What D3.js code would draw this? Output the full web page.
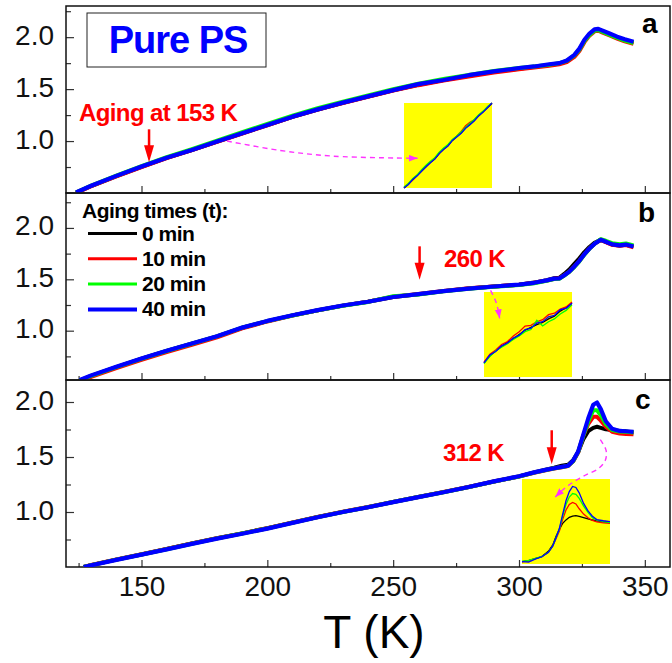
<!DOCTYPE html>
<html>
<head>
<meta charset="utf-8">
<script src="https://cdn.jsdelivr.net/npm/d3@7"></script>
<style>
  body { margin: 0; background: #fff; }
  text { font-family: "Liberation Sans", Arial, sans-serif; }
</style>
</head>
<body>
<div id="chart"></div>
<script>
// temperatures (K) and curves for each panel
var tA = [124,130,140,150,160,170,180,190,200,210,220,230,240,250,260,270,280,290,300,306,312,316,319,322,324,326,328,330,331.5,333,336,339,342,345.5]
var aBlack = [0.503,0.567,0.662,0.752,0.838,0.914,0.994,1.074,1.154,1.234,1.304,1.368,1.428,1.488,1.542,1.587,1.628,1.667,1.697,1.714,1.731,1.746,1.768,1.822,1.88,1.965,2.026,2.066,2.072,2.057,2.027,1.997,1.972,1.947]
var aRed   = [0.5,0.565,0.66,0.75,0.835,0.912,0.993,1.072,1.152,1.232,1.302,1.366,1.426,1.485,1.538,1.582,1.622,1.66,1.69,1.707,1.724,1.738,1.76,1.81,1.868,1.952,2.015,2.056,2.062,2.046,2.016,1.986,1.96,1.935]
var aGreen = [0.505,0.572,0.668,0.758,0.845,0.922,1.003,1.085,1.165,1.245,1.316,1.38,1.44,1.5,1.553,1.597,1.637,1.675,1.703,1.718,1.735,1.75,1.772,1.825,1.88,1.963,2.022,2.062,2.068,2.053,2.023,1.993,1.968,1.944]
var aBlue  = [0.505,0.57,0.665,0.755,0.84,0.915,0.995,1.075,1.155,1.235,1.305,1.37,1.43,1.49,1.548,1.588,1.634,1.67,1.703,1.718,1.739,1.75,1.775,1.83,1.89,1.975,2.035,2.075,2.08,2.065,2.035,2.005,1.98,1.955]

var tB = [125.5,130,140,150,160,170,180,190,200,210,220,230,240,250,260,270,280,290,300,306,311,314,316,318,320,322,324,326,328,330,332.5,334.5,337,340,342.5,345.5]
var bBlack = [0.515,0.56,0.645,0.727,0.803,0.873,0.944,1.028,1.093,1.149,1.199,1.244,1.281,1.327,1.355,1.385,1.41,1.43,1.448,1.468,1.492,1.51,1.515,1.552,1.595,1.65,1.705,1.765,1.815,1.855,1.884,1.864,1.839,1.829,1.836,1.818]
var bRed   = [0.505,0.55,0.635,0.715,0.792,0.863,0.935,1.022,1.09,1.147,1.198,1.244,1.283,1.33,1.358,1.387,1.412,1.431,1.448,1.466,1.488,1.505,1.51,1.54,1.575,1.625,1.68,1.745,1.8,1.845,1.885,1.862,1.836,1.826,1.834,1.812]
var bGreen = [0.515,0.56,0.645,0.726,0.802,0.873,0.945,1.03,1.093,1.148,1.198,1.243,1.28,1.335,1.353,1.383,1.408,1.427,1.444,1.462,1.486,1.503,1.505,1.537,1.572,1.62,1.675,1.74,1.797,1.845,1.89,1.875,1.852,1.842,1.848,1.83]
var bBlue  = [0.52,0.565,0.65,0.73,0.805,0.875,0.945,1.03,1.095,1.15,1.2,1.245,1.282,1.328,1.356,1.385,1.41,1.43,1.448,1.466,1.49,1.507,1.508,1.54,1.575,1.625,1.68,1.745,1.8,1.845,1.885,1.866,1.84,1.83,1.838,1.82]

var tC = [127,130,140,150,160,170,180,190,200,210,220,230,240,250,260,270,280,290,300,306,311,314,317,319.5,321.5,323.5,325.5,327.5,329.5,331,332.5,334.5,337,340,342.5,345.5]
var cBlack = [0.5,0.517,0.567,0.614,0.663,0.713,0.761,0.806,0.853,0.903,0.954,1.001,1.044,1.091,1.136,1.181,1.227,1.277,1.324,1.36,1.387,1.402,1.42,1.43,1.47,1.545,1.66,1.735,1.765,1.775,1.765,1.752,1.746,1.737,1.733,1.722]
var cRed   = [0.5,0.518,0.568,0.616,0.665,0.715,0.762,0.806,0.853,0.904,0.955,1.002,1.045,1.092,1.137,1.182,1.228,1.277,1.323,1.357,1.382,1.396,1.407,1.418,1.46,1.54,1.69,1.8,1.865,1.865,1.83,1.775,1.73,1.713,1.71,1.707]
var cGreen = [0.5,0.517,0.567,0.614,0.662,0.712,0.76,0.804,0.851,0.902,0.953,1.0,1.044,1.091,1.136,1.18,1.226,1.276,1.323,1.358,1.383,1.397,1.408,1.42,1.462,1.545,1.69,1.82,1.925,1.925,1.88,1.8,1.745,1.731,1.73,1.722]
var cBlue  = [0.5,0.515,0.565,0.612,0.66,0.71,0.758,0.802,0.849,0.901,0.952,1.0,1.043,1.09,1.135,1.18,1.227,1.278,1.325,1.36,1.385,1.398,1.41,1.42,1.465,1.55,1.7,1.85,1.975,1.995,1.935,1.825,1.757,1.737,1.734,1.728]

// agrandissements (encarts jaunes)
var tInsA = [145,146,147,148,149,150,151,152,153,154,155,156,157,158,159,160,161,162,163,164,165]
var insABlack = [0.7,0.708,0.716,0.725,0.734,0.742,0.751,0.758,0.768,0.777,0.784,0.794,0.802,0.809,0.819,0.826,0.834,0.843,0.851,0.859,0.867]
var insARed   = [0.701,0.708,0.716,0.725,0.734,0.743,0.751,0.759,0.769,0.777,0.785,0.795,0.803,0.812,0.823,0.83,0.835,0.844,0.851,0.86,0.868]
var insAGreen = [0.702,0.709,0.719,0.726,0.736,0.745,0.753,0.76,0.771,0.779,0.786,0.796,0.803,0.811,0.82,0.828,0.836,0.845,0.852,0.861,0.868]
var insABlue  = [0.7,0.707,0.717,0.724,0.733,0.742,0.75,0.757,0.768,0.776,0.783,0.794,0.801,0.808,0.818,0.825,0.833,0.843,0.85,0.859,0.868]

var tInsB = [245,247,249,251,253,255,257,259,261,263,265,267,269,271,273,275]
var insBBlack = [1.3,1.31,1.317,1.323,1.329,1.334,1.34,1.346,1.35,1.354,1.357,1.362,1.366,1.373,1.378,1.384]
var insBRed   = [1.301,1.312,1.318,1.326,1.33,1.338,1.344,1.352,1.353,1.358,1.361,1.368,1.37,1.376,1.379,1.386]
var insBGreen = [1.299,1.309,1.317,1.322,1.327,1.333,1.338,1.344,1.347,1.36,1.352,1.358,1.362,1.369,1.374,1.382]
var insBBlue  = [1.3,1.311,1.316,1.324,1.328,1.335,1.339,1.347,1.349,1.356,1.358,1.365,1.367,1.375,1.377,1.384]

var tInsC = [305,308,311,314,317,319,320.5,322,323.5,325,326.5,328,329.5,331,333,335,337,339,342,345]
var insCBlack = [1.323,1.332,1.351,1.37,1.42,1.48,1.56,1.625,1.683,1.715,1.739,1.75,1.755,1.748,1.737,1.724,1.714,1.706,1.697,1.689]
var insCRed   = [1.32,1.33,1.35,1.368,1.41,1.47,1.54,1.61,1.72,1.808,1.86,1.88,1.865,1.82,1.77,1.735,1.71,1.697,1.688,1.683]
var insCGreen = [1.325,1.333,1.352,1.37,1.41,1.47,1.55,1.63,1.75,1.86,1.93,1.963,1.955,1.918,1.845,1.785,1.735,1.712,1.698,1.689]
var insCBlue  = [1.322,1.318,1.345,1.368,1.41,1.47,1.55,1.636,1.77,1.895,1.981,2.03,2.02,1.97,1.87,1.8,1.75,1.718,1.707,1.698]

var yDomA = [0.5, 2.3], yDomB = [0.52, 2.34], yDomC = [0.5, 2.2]
var insDomA = [[145, 165], [0.70, 0.868]]
var insDomB = [[245, 275], [1.28, 1.40]]
var insDomC = [[305, 345], [1.30, 2.10]]

var xDomain = [120, 360]
var majorT = [150, 200, 250, 300, 350]
var minorT = [125, 175, 225, 275, 325]
var majorY = [1.0, 1.5, 2.0]
var minorY = [0.75, 1.25, 1.75, 2.25]

var times = ["0 min", "10 min", "20 min", "40 min"]
var colors = ["#000000", "#ff0000", "#00ff00", "#0000ff"]

// temperatures de vieillissement et flèches
var agingT = [153, 260.5, 313]
var agingLabels = ["Aging at 153 K", "260 K", "312 K"]
var agingArrowY = [[1.113, 0.795], [1.821, 1.496], [1.743, 1.434]]
var pinkA = [[184, 1.0], [205, 0.91], [226, 0.855], [259.7, 0.834]]
var pinkB = [[288.7, 1.392], [291, 1.27], [292.3, 1.12]]
var pinkC = [[332.3, 1.658], [334.6, 1.561], [334.3, 1.47], [331.6, 1.395], [326.3, 1.334], [319.7, 1.243], [314.4, 1.136]]

var width = 672
var height = 663

var panels = [
  { t: tA, ys: [aBlack, aRed, aGreen, aBlue], yDom: yDomA, top: 6, letter: "a",
    ins: { t: tInsA, ys: [insABlack, insARed, insAGreen, insABlue], dom: insDomA, x: 404, y: 103 },
    pink: pinkA, label: { x: 79, y: 121 } },
  { t: tB, ys: [bBlack, bRed, bGreen, bBlue], yDom: yDomB, top: 193, letter: "b",
    ins: { t: tInsB, ys: [insBBlack, insBRed, insBGreen, insBBlue], dom: insDomB, x: 484, y: 292 },
    pink: pinkB, label: { x: 444, y: 267 } },
  { t: tC, ys: [cBlack, cRed, cGreen, cBlue], yDom: yDomC, top: 380, letter: "c",
    ins: { t: tInsC, ys: [insCBlack, insCRed, insCGreen, insCBlue], dom: insDomC, x: 522, y: 479 },
    pink: pinkC, label: { x: 443, y: 461 } }
]
var panelH = 187
var left = 66, right = 670
var insW = 88, insH = 85

var svg = d3.select("#chart")
  .append("svg")
    .attr("width", width)
    .attr("height", height)

var defs = svg.append("defs")
defs.append("marker")
    .attr("id", "pinkhead")
    .attr("markerUnits", "userSpaceOnUse")
    .attr("markerWidth", 10)
    .attr("markerHeight", 8)
    .attr("refX", 9)
    .attr("refY", 3.5)
    .attr("orient", "auto")
  .append("path")
    .attr("d", "M0,0 L9,3.5 L0,7 z")
    .style("fill", "#ff33ff")

var x = d3.scaleLinear().domain(xDomain).range([left, right])

panels.forEach(function(p, pi) {
  var y = d3.scaleLinear().domain(p.yDom).range([p.top + panelH, p.top])
  var g = svg.append("g")

  defs.append("clipPath").attr("id", "clip" + pi)
    .append("rect")
      .attr("x", left).attr("y", p.top)
      .attr("width", right - left).attr("height", panelH)

  // axes
  var axB = g.append("g").attr("transform", "translate(0," + (p.top + panelH) + ")")
  axB.call(d3.axisBottom(x).tickValues(minorT).tickSize(-4).tickFormat(""))
  var axB2 = g.append("g").attr("transform", "translate(0," + (p.top + panelH) + ")")
  axB2.call(d3.axisBottom(x).tickValues(majorT).tickSize(-7).tickPadding(9)
    .tickFormat(pi == 2 ? d3.format("d") : ""))
  var axL = g.append("g").attr("transform", "translate(" + left + ",0)")
  axL.call(d3.axisLeft(y).tickValues(minorY.filter(function(v){ return v < p.yDom[1] }))
    .tickSize(-5).tickFormat(""))
  var axL2 = g.append("g").attr("transform", "translate(" + left + ",0)")
  axL2.call(d3.axisLeft(y).tickValues(majorY).tickSize(-8).tickPadding(12).tickFormat(d3.format(".1f")))
  g.selectAll(".domain").remove()
  g.selectAll(".tick line").attr("stroke", "#333").attr("stroke-width", 1.2)
  g.selectAll(".tick text")
    .style("font-size", "28px")
    .style("fill", "#111")
  axL2.selectAll(".tick text").attr("dy", "0.25em")

  g.append("rect")
    .attr("x", left).attr("y", p.top)
    .attr("width", right - left).attr("height", panelH)
    .style("fill", "none").style("stroke", "#111").style("stroke-width", 1.5)

  // courbes
  var line = d3.line()
    .x(function(d){ return x(d[0]) })
    .y(function(d){ return y(d[1]) })
  var curves = g.append("g").attr("clip-path", "url(#clip" + pi + ")")
  p.ys.forEach(function(vals, si) {
    curves.append("path")
      .datum(p.t.map(function(t, i){ return [t, vals[i]] }))
      .attr("d", line)
      .style("fill", "none")
      .style("stroke", colors[si])
      .style("stroke-width", si == 3 ? 4.2 : 4)
      .style("stroke-linejoin", "round")
  })

  // encart jaune
  var ix = d3.scaleLinear().domain(p.ins.dom[0]).range([p.ins.x, p.ins.x + insW])
  var iy = d3.scaleLinear().domain(p.ins.dom[1]).range([p.ins.y + insH, p.ins.y])
  g.append("rect")
    .attr("x", p.ins.x).attr("y", p.ins.y)
    .attr("width", insW).attr("height", insH)
    .style("fill", "#ffff00")
  var iline = d3.line()
    .x(function(d){ return ix(d[0]) })
    .y(function(d){ return iy(d[1]) })
  p.ins.ys.forEach(function(vals, si) {
    g.append("path")
      .datum(p.ins.t.map(function(t, i){ return [t, vals[i]] }))
      .attr("d", iline)
      .style("fill", "none")
      .style("stroke", colors[si])
      .style("stroke-width", 1.3)
  })

  // flèche pointillée rose
  g.append("path")
    .datum(p.pink)
    .attr("d", d3.line().curve(d3.curveCatmullRom)
      .x(function(d){ return x(d[0]) })
      .y(function(d){ return y(d[1]) }))
    .style("fill", "none")
    .style("stroke", "#ff33ff")
    .style("stroke-width", 1.4)
    .style("stroke-dasharray", "5,4")
    .attr("marker-end", "url(#pinkhead)")

  // flèche rouge de la température de vieillissement
  var ax = x(agingT[pi]), y0 = y(agingArrowY[pi][0]), y1 = y(agingArrowY[pi][1])
  g.append("line")
    .attr("x1", ax).attr("x2", ax)
    .attr("y1", y0).attr("y2", y1 - 15)
    .style("stroke", "#ff0000").style("stroke-width", 2.5)
  g.append("path")
    .attr("d", "M" + (ax - 5) + "," + (y1 - 17) + "L" + (ax + 5) + "," + (y1 - 17) + "L" + ax + "," + y1 + "Z")
    .style("fill", "#ff0000")

  g.append("text")
    .attr("x", p.label.x).attr("y", p.label.y)
    .text(agingLabels[pi])
    .style("font-size", "24px")
    .style("font-weight", "bold")
    .style("letter-spacing", "-0.6px")
    .style("fill", "#ff0000")

  g.append("text")
    .attr("x", [642, 638, 635][pi]).attr("y", [33, 222, 409][pi])
    .text(p.letter)
    .style("font-size", "28px")
    .style("font-weight", "bold")
})

// boîte "Pure PS"
svg.append("rect")
  .attr("x", 87).attr("y", 13).attr("width", 179).attr("height", 54)
  .style("fill", "#fff").style("stroke", "#222").style("stroke-width", 1)
svg.append("text")
  .attr("x", 178).attr("y", 53)
  .attr("text-anchor", "middle")
  .text("Pure PS")
  .style("font-size", "38px")
  .style("font-weight", "bold")
  .style("letter-spacing", "-1px")
  .style("fill", "#0000ff")

// légende du panneau b
svg.append("text")
  .attr("x", 82).attr("y", 218)
  .text("Aging times (t):")
  .style("font-size", "21px")
  .style("font-weight", "bold")
  .style("letter-spacing", "-0.5px")

svg.selectAll("mylines")
  .data(times)
  .enter()
  .append("line")
    .attr("x1", 88).attr("x2", 137)
    .attr("y1", function(d,i){ return 233.5 + i*25.3 })
    .attr("y2", function(d,i){ return 233.5 + i*25.3 })
    .style("stroke", function(d,i){ return colors[i] })
    .style("stroke-width", function(d,i){ return i == 3 ? 4 : 3 })

svg.selectAll("mylabels")
  .data(times)
  .enter()
  .append("text")
    .attr("x", 142)
    .attr("y", function(d,i){ return 240.5 + i*25.3 })
    .text(function(d){ return d })
    .style("font-size", "21px")
    .style("font-weight", "bold")
    .style("letter-spacing", "-0.5px")

// titre de l'axe x
svg.append("text")
  .attr("x", 374).attr("y", 648)
  .attr("text-anchor", "middle")
  .text("T (K)")
  .style("font-size", "46px")
</script>
</body>
</html>
